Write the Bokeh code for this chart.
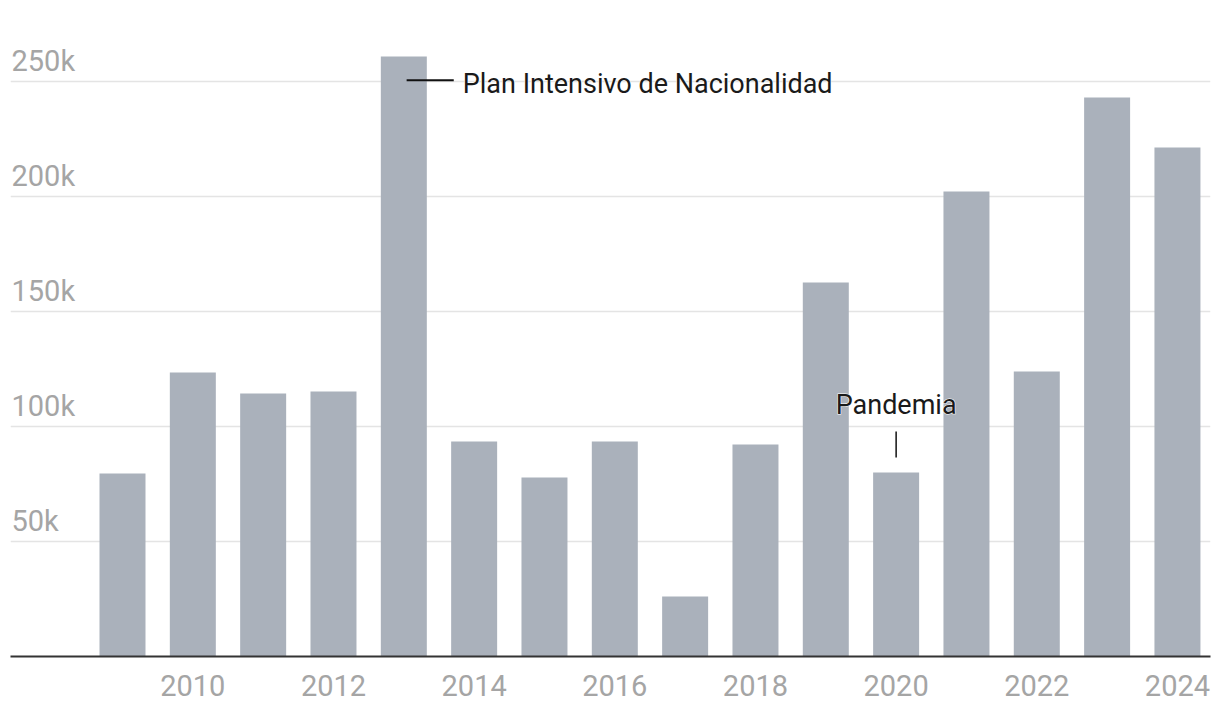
from bokeh.plotting import figure
from bokeh.models import Range1d, FixedTicker, ColumnDataSource
from bokeh.core.properties import value
from bokeh.embed import file_html
from bokeh.resources import INLINE

years = list(range(2009, 2025))
values = [79600, 123500, 114300, 115200, 260900, 93500, 77800, 93500,
          26100, 92200, 162600, 80000, 202200, 123900, 243000, 221300]
x_ticks = [2010, 2012, 2014, 2016, 2018, 2020, 2022, 2024]
y_ticks = [50000, 100000, 150000, 200000, 250000]
y_labels = ["50k", "100k", "150k", "200k", "250k"]

FONT = "Roboto"
BAR = "#aab1bb"

x_start, x_end = 2007.4075, 2024.47
p = figure(width=1212, height=710, output_backend="svg", toolbar_location=None,
           x_range=Range1d(x_start, x_end), y_range=Range1d(0, 276520),
           y_axis_location=None, min_border_left=10, min_border_right=2,
           min_border_top=20, min_border_bottom=54)
p.outline_line_color = None
p.background_fill_color = "white"
p.border_fill_color = "white"

p.vbar(x=years, top=values, width=0.654, bottom=0, color=BAR, line_color=None)

p.xgrid.visible = False
p.ygrid.ticker = FixedTicker(ticks=y_ticks)
p.ygrid.grid_line_color = "#e4e4e4"
p.ygrid.grid_line_width = 1.5

ax = p.xaxis[0]
ax.ticker = FixedTicker(ticks=x_ticks)
ax.axis_line_color = "#333333"
ax.axis_line_width = 2
ax.major_tick_line_color = None
ax.minor_tick_line_color = None
ax.major_label_text_font = FONT
ax.major_label_text_font_size = "29px"
ax.major_label_text_color = "#a5a5a5"
ax.major_label_standoff = 12

# y labels above gridlines inside plot
p.text(x=[x_start] * len(y_ticks), y=y_ticks, text=y_labels,
       text_font=value(FONT), text_font_size="29px", text_color="#a5a5a5",
       text_align="left", text_baseline="bottom", x_offset=1, y_offset=-3)

# Annotation: Plan Intensivo de Nacionalidad
p.segment(x0=[2013.04], y0=[250500], x1=[2013.71], y1=[250500],
          line_color="#111111", line_width=2)
ann_src = ColumnDataSource(dict(x=[2013.71], y=[250000], t=["Plan Intensivo de Nacionalidad"]))
p.text(x="x", y="y", text="t", source=ann_src, text_font=value(FONT),
       text_font_size="27px", text_color="white", text_outline_color="white",
       text_align="left", text_baseline="middle", x_offset=9, y_offset=3)
p.text(x="x", y="y", text="t", source=ann_src, text_font=value(FONT),
       text_font_size="27px", text_color="#1a1a1a",
       text_align="left", text_baseline="middle", x_offset=9, y_offset=3)

# Annotation: Pandemia
p.segment(x0=[2020], y0=[97800], x1=[2020], y1=[86500],
          line_color="#111111", line_width=1.5)
pan_src = ColumnDataSource(dict(x=[2020], y=[105700], t=["Pandemia"]))
p.text(x="x", y="y", text="t", source=pan_src, text_font=value(FONT),
       text_font_size="27px", text_color="white", text_outline_color="white",
       text_align="center", text_baseline="alphabetic", y_offset=-8)
p.text(x="x", y="y", text="t", source=pan_src, text_font=value(FONT),
       text_font_size="27px", text_color="#1a1a1a",
       text_align="center", text_baseline="alphabetic", y_offset=-8)

open("out.html", "w").write(file_html(p, INLINE))
